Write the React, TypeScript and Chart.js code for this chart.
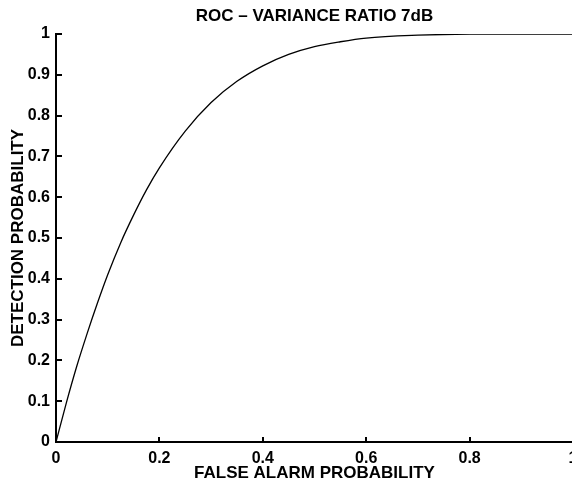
import React, { useEffect, useRef } from "react";
import { Chart, registerables } from "chart.js";

Chart.register(...registerables);

const falseAlarm = [0, 0.02, 0.04, 0.06, 0.08, 0.1, 0.125, 0.15, 0.175, 0.2, 0.25, 0.3, 0.35, 0.4, 0.45, 0.5, 0.55, 0.6, 0.7, 0.8, 0.9, 1];
const detection = [0, 0.096, 0.185, 0.265, 0.34, 0.41, 0.488, 0.556, 0.618, 0.672, 0.762, 0.832, 0.884, 0.922, 0.95, 0.969, 0.981, 0.99, 0.997, 0.9997, 1, 1];
const xTicks = [0, 0.2, 0.4, 0.6, 0.8, 1];
const yTicks = [0, 0.1, 0.2, 0.3, 0.4, 0.5, 0.6, 0.7, 0.8, 0.9, 1];
const titleText = "ROC \u2013 VARIANCE RATIO 7dB";
const xTitle = "FALSE ALARM PROBABILITY";
const yTitle = "DETECTION PROBABILITY";

const FONT = "'Liberation Sans', Arial, Helvetica, sans-serif";
const fmt = (v: number) => (v === 0 ? "0" : v === 1 ? "1" : v.toFixed(1));

const inwardTicks = {
  id: "inwardTicks",
  afterDraw(chart: any) {
    const { ctx, chartArea, scales } = chart;
    ctx.save();
    ctx.strokeStyle = "#000";
    ctx.lineWidth = 2;
    ctx.beginPath();
    xTicks.forEach((v) => {
      const px = Math.round(scales.x.getPixelForValue(v));
      ctx.moveTo(px, chartArea.bottom);
      ctx.lineTo(px, chartArea.bottom - 5);
    });
    yTicks.forEach((v) => {
      const py = Math.round(scales.y.getPixelForValue(v));
      ctx.moveTo(chartArea.left, py);
      ctx.lineTo(chartArea.left + 6, py);
    });
    ctx.stroke();
    ctx.restore();
  },
};

export default function App() {
  const ref = useRef<HTMLCanvasElement | null>(null);
  useEffect(() => {
    document.body.style.margin = "0";
    const canvas = ref.current!;
    const chart = new Chart(canvas, {
      type: "line",
      data: {
        datasets: [
          {
            data: falseAlarm.map((x, i) => ({ x, y: detection[i] })),
            borderColor: "#000",
            borderWidth: 1.3,
            pointRadius: 0,
            fill: false,
            cubicInterpolationMode: "monotone",
          },
        ],
      },
      options: {
        animation: false,
        responsive: false,
        devicePixelRatio: 1,
        layout: { padding: { left: 0, right: 47, top: 0, bottom: 0 } },
        plugins: {
          legend: { display: false },
          tooltip: { enabled: false },
          title: {
            display: true,
            text: titleText,
            fullSize: false,
            color: "#000",
            font: { family: FONT, size: 17, weight: "bold", lineHeight: 1.2 },
            padding: { top: 6, bottom: 7.6 },
          },
        },
        scales: {
          x: {
            type: "linear",
            min: 0,
            max: 1,
            afterFit: (s: any) => {
              s.height = 40;
            },
            afterBuildTicks: (s: any) => {
              s.ticks = xTicks.map((v) => ({ value: v }));
            },
            grid: { display: false, drawTicks: false },
            border: { display: true, color: "#000", width: 2 },
            ticks: {
              color: "#000",
              padding: 7,
              maxRotation: 0,
              autoSkip: false,
              font: { family: FONT, size: 16, weight: "bold" },
              callback: (v: any) => fmt(Number(v)),
            },
            title: {
              display: true,
              text: xTitle,
              color: "#000",
              font: { family: FONT, size: 17, weight: "bold", lineHeight: 1 },
              padding: { top: 0, bottom: 0 },
            },
          },
          y: {
            type: "linear",
            min: 0,
            max: 1,
            afterFit: (s: any) => {
              s.width = 56;
            },
            afterBuildTicks: (s: any) => {
              s.ticks = yTicks.map((v) => ({ value: v }));
            },
            grid: { display: false, drawTicks: false },
            border: { display: true, color: "#000", width: 2 },
            ticks: {
              color: "#000",
              padding: 6,
              autoSkip: false,
              font: { family: FONT, size: 16, weight: "bold" },
              callback: (v: any) => fmt(Number(v)),
            },
            title: {
              display: true,
              text: yTitle,
              color: "#000",
              font: { family: FONT, size: 17, weight: "bold", lineHeight: 1 },
              padding: { top: 9.5, bottom: 0 },
            },
          },
        },
      },
      plugins: [inwardTicks],
    } as any);
    return () => chart.destroy();
  }, []);
  return (
    <div style={{ position: "absolute", left: 0, top: 0, width: 572, height: 482, overflow: "hidden", background: "#fff" }}>
      <canvas ref={ref} width={620} height={482} style={{ display: "block", width: 620, height: 482 }} />
    </div>
  );
}
